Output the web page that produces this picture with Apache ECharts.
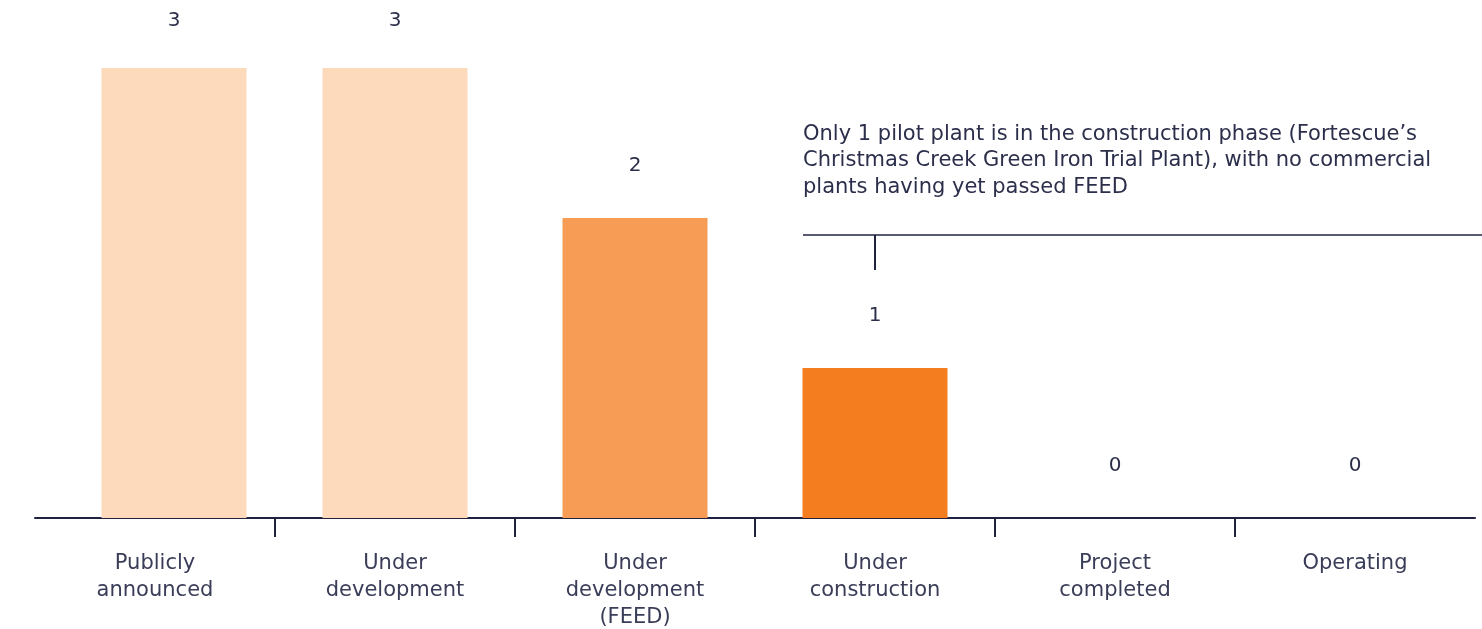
<!DOCTYPE html>
<html>
<head>
<meta charset="utf-8">
<script src="https://cdn.jsdelivr.net/npm/echarts@6/dist/echarts.min.js"></script>
<style>
    html, body { margin: 0; padding: 0; background: #fff; }
    #chart { width: 1482px; height: 629px; }
</style>
</head>
<body>
<div id="chart"></div>
<script>
// data
const stages = ["Publicly\nannounced", "Under\ndevelopment", "Under\ndevelopment\n(FEED)", "Under\nconstruction", "Project\ncompleted", "Operating"];
const plantCounts = [3, 3, 2, 1, 0, 0];
const stageColors = ["#fcdabb", "#fcdabb", "#f69c55", "#f47d20", "#f47d20", "#f47d20"];
const note = "Only 1 pilot plant is in the construction phase (Fortescue\u2019s\nChristmas Creek Green Iron Trial Plant), with no commercial\nplants having yet passed FEED";

const FONT = "DejaVu Sans";
const INK = "#2c2f4b";
const AXIS = "#1f2340";

// tallest labels sit a bit closer to their bars in the original
function barItem(v, i) {
    const item = {value: v, itemStyle: {color: stageColors[i]}};
    if (v === 3) item.label = {distance: 37};
    return item;
}

// the first bar sits a little right of its category in the original,
// so it gets its own grid shifted by 19px
const firstBar = plantCounts.map((v, i) => i === 0 ? barItem(v, i) : "-");
const otherBars = plantCounts.map((v, i) => i === 0 ? "-" : barItem(v, i));

const valueLabel = {
    show: true,
    position: "top",
    distance: 42,
    fontFamily: FONT,
    fontSize: 20,
    color: INK
};

const chart = echarts.init(document.getElementById("chart"));
chart.setOption({
    animation: false,
    grid: [
        {left: 35, width: 1440, top: 68, bottom: 111, outerBoundsMode: "none"},
        {left: 54, width: 1440, top: 68, bottom: 111, outerBoundsMode: "none"}
    ],
    xAxis: [
        {
            type: "category",
            gridIndex: 0,
            position: "bottom",
            data: stages,
            axisLine: {show: false},
            axisTick: {show: false},
            axisLabel: {
                interval: 0,
                margin: 32,
                fontFamily: FONT,
                fontSize: 21,
                lineHeight: 27,
                color: "#3a3d58"
            }
        },
        {
            // axis line + boundary ticks (no tick at the two ends)
            type: "category",
            gridIndex: 0,
            position: "bottom",
            boundaryGap: false,
            data: ["", "", "", "", "", "", ""],
            axisLine: {lineStyle: {color: AXIS, width: 2}},
            axisTick: {
                length: 19,
                interval: (i) => i > 0 && i < 6,
                lineStyle: {color: AXIS, width: 2}
            },
            axisLabel: {show: false}
        },
        {
            type: "category",
            gridIndex: 1,
            data: stages,
            show: false
        }
    ],
    yAxis: [
        {type: "value", gridIndex: 0, min: 0, max: 3, show: false},
        {type: "value", gridIndex: 1, min: 0, max: 3, show: false}
    ],
    series: [
        {
            type: "bar",
            xAxisIndex: 0,
            yAxisIndex: 0,
            barWidth: 145,
            data: otherBars,
            label: valueLabel
        },
        {
            type: "bar",
            xAxisIndex: 2,
            yAxisIndex: 1,
            barWidth: 145,
            data: firstBar,
            label: valueLabel
        }
    ],
    graphic: [
        {
            type: "text",
            left: 803,
            top: 121,
            style: {
                text: note,
                font: "21px '" + FONT + "'",
                lineHeight: 26.5,
                fill: INK
            }
        },
        {
            type: "line",
            shape: {x1: 803, y1: 235, x2: 1482, y2: 235},
            style: {stroke: AXIS, lineWidth: 1.5}
        },
        {
            type: "line",
            shape: {x1: 875, y1: 235, x2: 875, y2: 270},
            style: {stroke: AXIS, lineWidth: 2}
        }
    ]
});
</script>
</body>
</html>
